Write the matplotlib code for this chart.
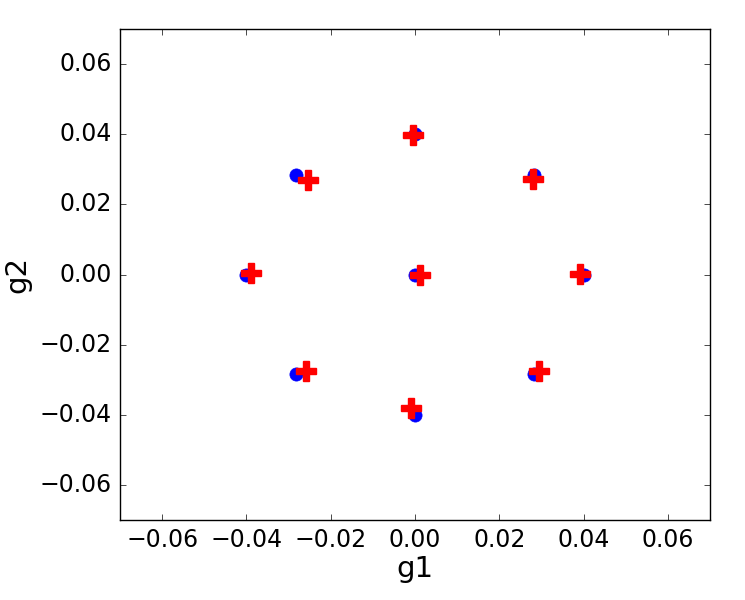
import numpy as np
import matplotlib
matplotlib.use("Agg")
import matplotlib.pyplot as plt

# true positions (blue) and recovered positions (red)
true_g1 = [0.0, 0.0283, 0.04, 0.0283, 0.0, -0.0283, -0.04, -0.0283, 0.0]
true_g2 = [0.04, 0.0283, 0.0, -0.0283, -0.04, -0.0283, 0.0, 0.0283, 0.0]

est_g1 = [-0.0005, 0.0280, 0.0392, 0.0295, -0.0009, -0.0258, -0.0388, -0.0254, 0.0012]
est_g2 = [0.0398, 0.0272, 0.0002, -0.0275, -0.0382, -0.0275, 0.0005, 0.0270, 0.0000]

plt.style.use('classic')
plt.rcParams['font.family'] = ['DejaVu Sans']

fig = plt.figure(figsize=(7.45, 6), dpi=100, facecolor='white')
ax = fig.add_axes([120/745, 80/600, 590/745, 491/600])

ax.plot(true_g1, true_g2, 'o', color='blue', markeredgecolor='blue', markersize=9.5)
ax.plot(est_g1, est_g2, 'P', color='red', markeredgecolor='red', markersize=14, markeredgewidth=1)

ax.set_xlim(-0.07, 0.07)
ax.set_ylim(-0.07, 0.07)
ax.set_xticks([-0.06, -0.04, -0.02, 0.0, 0.02, 0.04, 0.06])
ax.set_yticks([-0.06, -0.04, -0.02, 0.0, 0.02, 0.04, 0.06])
ax.tick_params(labelsize=17, pad=6)
ax.set_xlabel('g1', fontsize=21, labelpad=2)
ax.set_ylabel('g2', fontsize=21, labelpad=6)

fig.savefig('out.png', dpi=100, facecolor='white')
